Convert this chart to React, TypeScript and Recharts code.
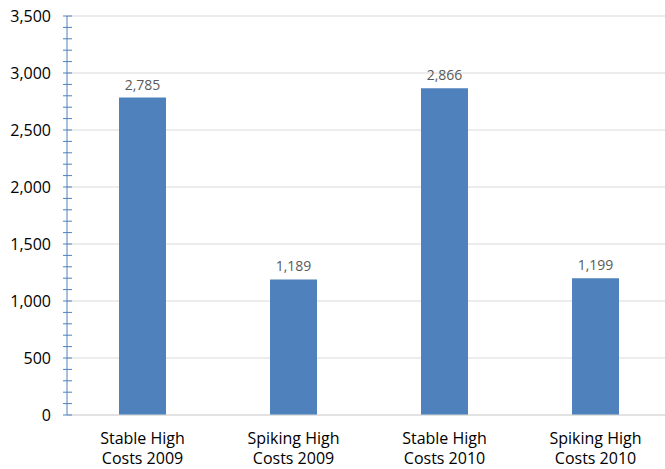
import { BarChart, Bar, XAxis, YAxis, CartesianGrid, LabelList } from 'recharts';

// categories, split in two lines like the original axis labels
const categories = [
  'Stable High Costs 2009',
  'Spiking High Costs 2009',
  'Stable High Costs 2010',
  'Spiking High Costs 2010',
];
const categoryLines: Record<string, string[]> = {
  'Stable High Costs 2009': ['Stable High', 'Costs 2009'],
  'Spiking High Costs 2009': ['Spiking High', 'Costs 2009'],
  'Stable High Costs 2010': ['Stable High', 'Costs 2010'],
  'Spiking High Costs 2010': ['Spiking High', 'Costs 2010'],
};
const values = [2785, 1189, 2866, 1199];

const majorTicks = [0, 500, 1000, 1500, 2000, 2500, 3000, 3500];
const allTicks = [
  0, 100, 200, 300, 400, 500, 600, 700, 800, 900, 1000, 1100, 1200, 1300, 1400, 1500,
  1600, 1700, 1800, 1900, 2000, 2100, 2200, 2300, 2400, 2500, 2600, 2700, 2800, 2900,
  3000, 3100, 3200, 3300, 3400, 3500,
];

const data = categories.map((name, i) => ({ name, value: values[i] }));

const FONT = '"Open Sans", sans-serif';
const AXIS_BLUE = '#4F81BD';

function YTick({ x, y, payload }: any) {
  const isMajor = majorTicks.includes(payload.value);
  return (
    <g>
      <line x1={x - 4} x2={x + 5} y1={y} y2={y} stroke={AXIS_BLUE} strokeWidth={1} />
      {isMajor && (
        <text x={x - 16} y={y} dy={6} textAnchor="end" fontSize={16} fill="#000" fontFamily={FONT}>
          {payload.value.toLocaleString('en-US')}
        </text>
      )}
    </g>
  );
}

function XTick({ x, y, payload }: any) {
  const lines = categoryLines[payload.value] || [payload.value];
  return (
    <text x={x} y={y + 29} textAnchor="middle" fontSize={16} fill="#000" fontFamily={FONT}>
      {lines.map((l, i) => (
        <tspan key={i} x={x} dy={i === 0 ? 0 : 20}>
          {l}
        </tspan>
      ))}
    </text>
  );
}

export default function App() {
  return (
    <div
      style={{
        position: 'absolute',
        left: 0,
        top: 0,
        width: 665,
        height: 469,
        overflow: 'hidden',
        background: '#fff',
        fontFamily: FONT,
      }}
    >
      <BarChart width={671} height={469} data={data} margin={{ top: 16, right: 0, left: 0, bottom: 0 }}>
        <CartesianGrid
          vertical={false}
          stroke="#D9D9D9"
          horizontalCoordinatesGenerator={({ offset }: any) =>
            majorTicks.map((v) => offset.top + offset.height * (1 - v / 3500))
          }
        />
        <XAxis
          dataKey="name"
          height={54}
          tickLine={false}
          tickSize={0}
          tickMargin={0}
          axisLine={{ stroke: '#D9D9D9' }}
          tick={<XTick />}
          interval={0}
        />
        <YAxis
          width={67}
          domain={[0, 3500]}
          ticks={allTicks}
          interval={0}
          tickLine={false}
          tickSize={0}
          tickMargin={0}
          axisLine={{ stroke: AXIS_BLUE }}
          tick={<YTick />}
        />
        <Bar dataKey="value" fill="#4F81BD" barSize={47} isAnimationActive={false}>
          <LabelList
            dataKey="value"
            position="top"
            offset={8}
            fill="#595959"
            fontSize={14}
            fontFamily={FONT}
            formatter={(v: any) => Number(v).toLocaleString('en-US')}
          />
        </Bar>
      </BarChart>
    </div>
  );
}
